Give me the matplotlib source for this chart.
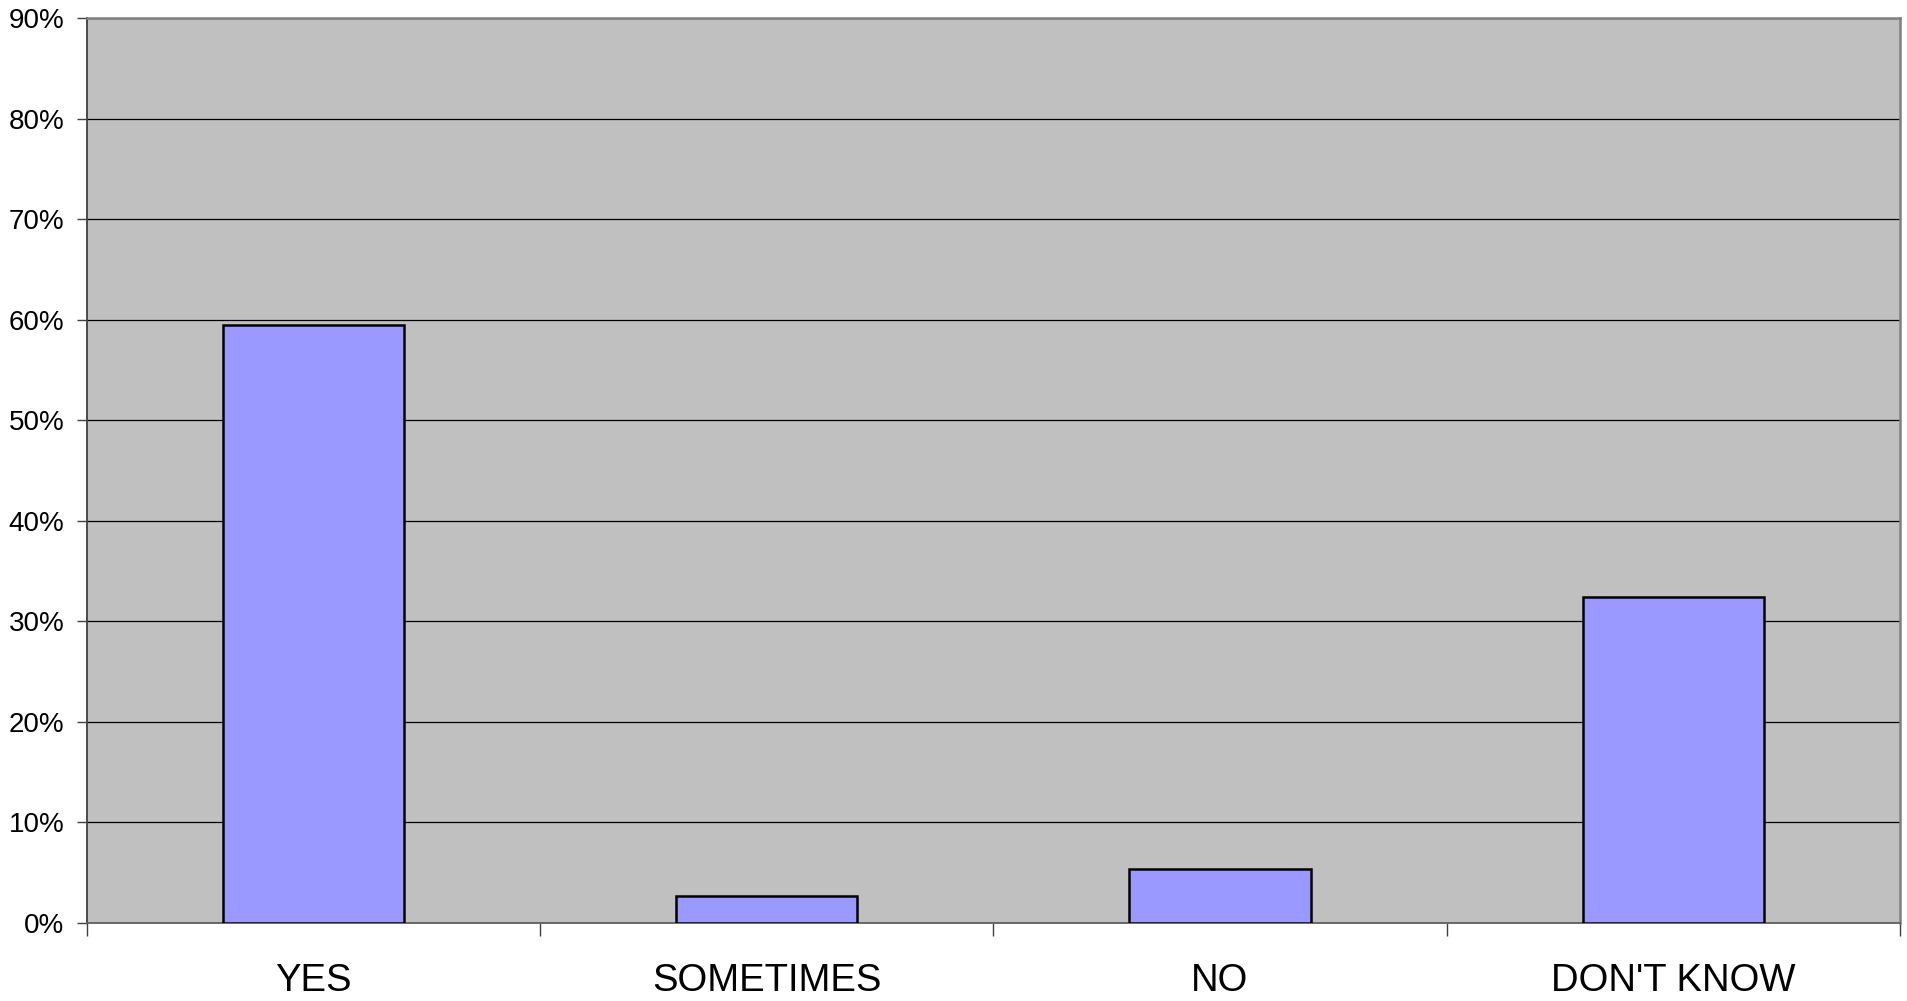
import matplotlib
matplotlib.use('Agg')
from matplotlib import pyplot as plt
from matplotlib.ticker import FixedLocator, PercentFormatter

categories = ['YES', 'SOMETIMES', 'NO', "DON'T KNOW"]
shares = [59.46, 2.70, 5.41, 32.43]
y_ticks = [0, 10, 20, 30, 40, 50, 60, 70, 80, 90]

plt.rcParams['font.family'] = ['Liberation Sans', 'DejaVu Sans']

fig = plt.figure(figsize=(19.07, 10.01), dpi=100)
ax = fig.add_axes([0.0454, 0.0779, 0.9509, 0.9041])
ax.set_facecolor('#C0C0C0')

x = list(range(len(categories)))
ax.bar(x, shares, width=0.4, color='#9999FF', edgecolor='black', linewidth=1.8, zorder=3)

ax.set_xlim(-0.5, len(categories) - 0.5)
ax.set_ylim(0, 90)
ax.set_yticks(y_ticks)
ax.yaxis.set_major_formatter(PercentFormatter(decimals=0))
ax.grid(axis='y', color='black', linewidth=0.9, zorder=1)
ax.set_axisbelow(True)

# category labels at centres, tick marks at boundaries
ax.set_xticks(x)
ax.set_xticklabels(categories)
ax.xaxis.set_minor_locator(FixedLocator([i - 0.5 for i in range(len(categories) + 1)]))
ax.tick_params(axis='x', which='major', length=0, pad=29, labelsize=27.5)
ax.tick_params(axis='x', which='minor', length=9, width=1, color='#404040', direction='out')
ax.tick_params(axis='y', length=7, width=1, color='#404040', pad=9, labelsize=20)

for side in ['top', 'right']:
    ax.spines[side].set_color('#808080')
    ax.spines[side].set_linewidth(1.8)
ax.spines['left'].set_color('#404040')
ax.spines['left'].set_linewidth(1.3)
ax.spines['bottom'].set_color('#606060')
ax.spines['bottom'].set_linewidth(1.3)

plt.savefig('out.png', dpi=100)
